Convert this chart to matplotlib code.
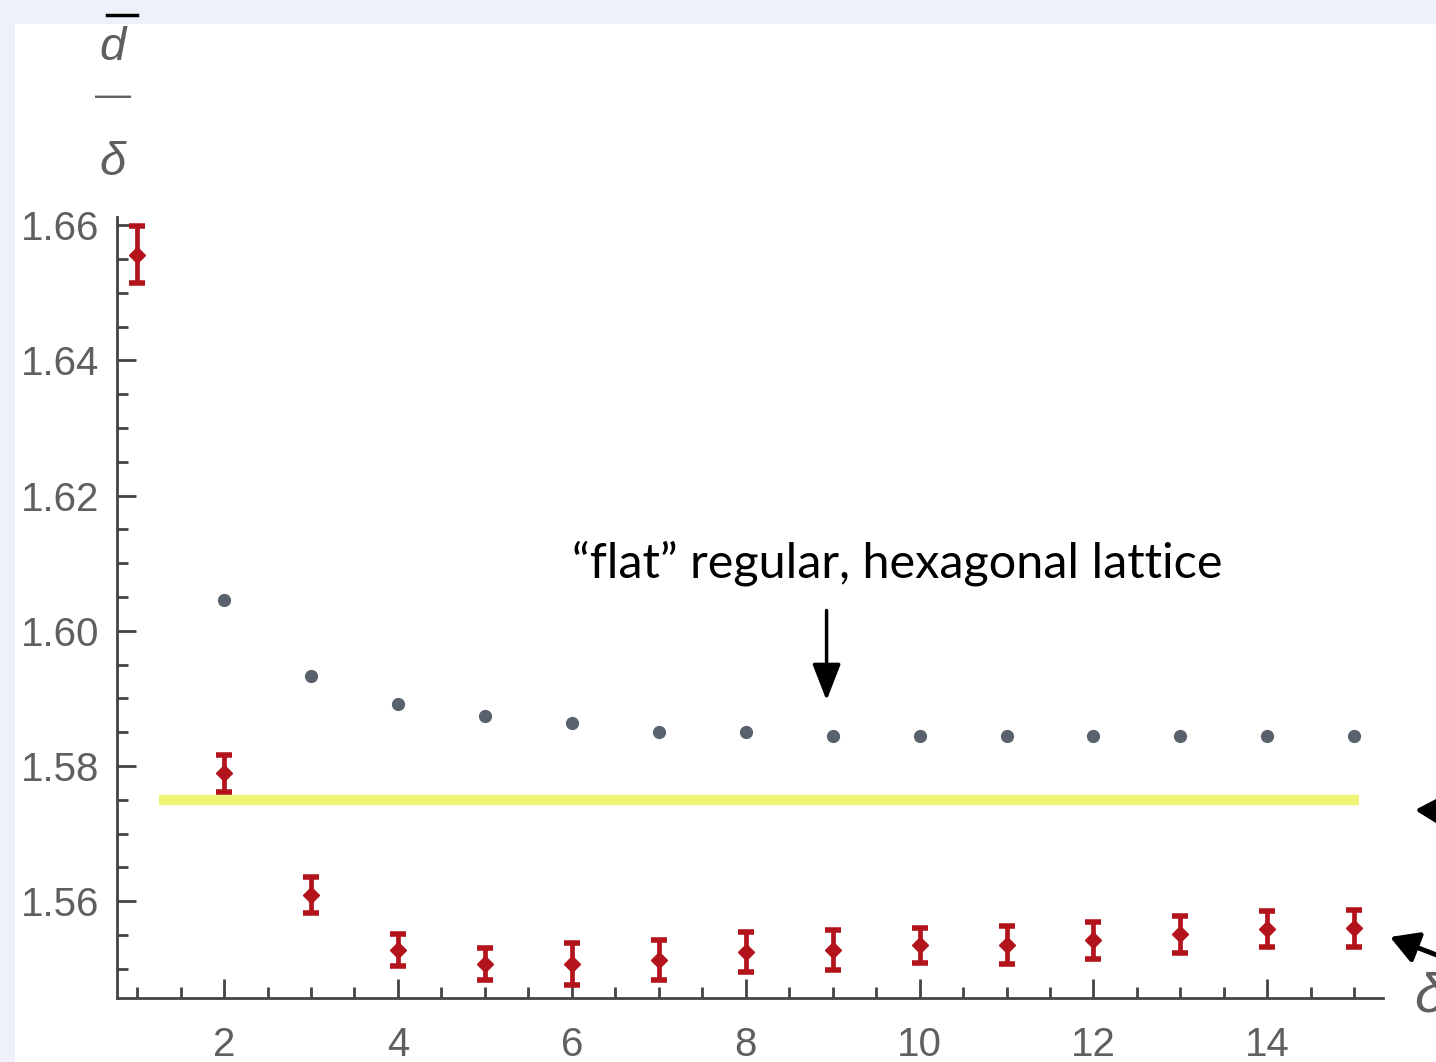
import numpy as np
import matplotlib
matplotlib.use('Agg')
import matplotlib.pyplot as plt
from matplotlib.patches import Rectangle
from matplotlib.ticker import MultipleLocator

# data
delta_red = [1, 2, 3, 4, 5, 6, 7, 8, 9, 10, 11, 12, 13, 14, 15]
ratio_red = [1.6556, 1.5789, 1.5609, 1.5528, 1.5507, 1.5507, 1.5513, 1.5525,
             1.5528, 1.5535, 1.5535, 1.5542, 1.5551, 1.5559, 1.5560]
err_red = [0.0042, 0.0027, 0.0027, 0.0023, 0.0024, 0.0031, 0.0029, 0.0030,
           0.0030, 0.0026, 0.0028, 0.0028, 0.0027, 0.0027, 0.0027]

delta_flat = [2, 3, 4, 5, 6, 7, 8, 9, 10, 11, 12, 13, 14, 15]
ratio_flat = [1.6045, 1.5933, 1.5891, 1.5874, 1.5863, 1.5850, 1.5850, 1.5844,
              1.5844, 1.5844, 1.5844, 1.5844, 1.5844, 1.5844]

limit_value = 1.575
limit_from, limit_to = 1.25, 15.05

x_ticks = [2, 4, 6, 8, 10, 12, 14]
y_ticks = [1.56, 1.58, 1.60, 1.62, 1.64, 1.66]

gray = '#5f5f5f'
plt.rcParams['font.family'] = ['Liberation Sans', 'DejaVu Sans']

fig = plt.figure(figsize=(14.36, 10.62), dpi=100, facecolor='#eef0fa')
# white slide area
fig.patches.append(Rectangle((15 / 1436, 0), 1, 1 - 24 / 1062, facecolor='white',
                             edgecolor='none', transform=fig.transFigure, zorder=-5))

ax = fig.add_axes([0.0815, 0.0603, 0.8816, 0.7354])
ax.set_zorder(2)
ax.set_facecolor('none')
ax.set_xlim(0.769, 15.33)
ax.set_ylim(1.5457, 1.6612)

for s in ['top', 'right']:
    ax.spines[s].set_visible(False)
for s in ['left', 'bottom']:
    ax.spines[s].set_color('#444444')
    ax.spines[s].set_linewidth(2)

ax.set_xticks(x_ticks)
ax.set_yticks(y_ticks)
ax.set_yticklabels(['%.2f' % v for v in y_ticks])
ax.xaxis.set_minor_locator(MultipleLocator(0.5))
ax.yaxis.set_minor_locator(MultipleLocator(0.005))
ax.tick_params(which='both', direction='in', color='#444444', width=2,
               labelcolor=gray, labelsize=29)
ax.tick_params(which='major', length=14)
ax.tick_params(which='minor', length=8)
ax.tick_params(axis='y', which='major', pad=13)
ax.tick_params(axis='x', which='major', pad=20)

# yellow reference line
ax.hlines(limit_value, limit_from, limit_to, color='#eff574', lw=7.5, zorder=2)

# flat lattice points
ax.plot(delta_flat, ratio_flat, 'o', color='#58616c', ms=8.5, zorder=3)

# red points with error bars
ax.errorbar(delta_red, ratio_red, yerr=err_red, fmt='D', color='#b3141c',
            ms=8, elinewidth=3.4, capsize=6, capthick=4, zorder=4)

# axis labels, Mathematica style
fig.text(113 / 1436, 1 - 48 / 1062, 'd', color=gray, fontsize=34, style='italic',
         ha='center', va='center')
fig.text(113 / 1436, 1 - 97 / 1062, '\u2014', color=gray, fontsize=26,
         ha='center', va='center')
fig.text(113 / 1436, 1 - 163 / 1062, '\u03b4', color=gray, fontsize=34, style='italic',
         ha='center', va='center')
fig.add_artist(plt.Line2D([107 / 1436, 137 / 1436], [1 - 15 / 1062, 1 - 15 / 1062],
                          color='black', lw=2.5, transform=fig.transFigure))
fig.text(1414 / 1436, 1 - 998 / 1062, '\u03b4', color=gray, fontsize=40, style='italic',
         ha='left', va='center')

# annotation
ax.text(9.74, 1.6100, '\u201cflat\u201d regular, hexagonal lattice', fontsize=35,
        family=['Lato', 'DejaVu Sans'], ha='center', va='center', color='black')
ax.annotate('', xy=(8.93, 1.5897), xytext=(8.93, 1.6030),
            arrowprops=dict(arrowstyle='-|>,head_length=0.9,head_width=0.35', color='black',
                            lw=2.5, mutation_scale=25, shrinkA=0, shrinkB=0))

# arrows coming in from the right edge
head = '-|>,head_length=0.7,head_width=0.4'
ax.annotate('', xy=(1415 / 1436, 1 - 810 / 1062), xycoords='figure fraction',
            xytext=(1.06, 1 - 814 / 1062), textcoords='figure fraction',
            arrowprops=dict(arrowstyle=head, color='black', lw=3.5, mutation_scale=28,
                            shrinkA=0, shrinkB=0),
            annotation_clip=False)
ax.annotate('', xy=(1390 / 1436, 1 - 937 / 1062), xycoords='figure fraction',
            xytext=(1.045, 0.0775), textcoords='figure fraction',
            arrowprops=dict(arrowstyle=head, color='black', lw=3.5, mutation_scale=24,
                            shrinkA=0, shrinkB=0),
            annotation_clip=False)

fig.savefig('out.png', dpi=100, facecolor=fig.get_facecolor())
